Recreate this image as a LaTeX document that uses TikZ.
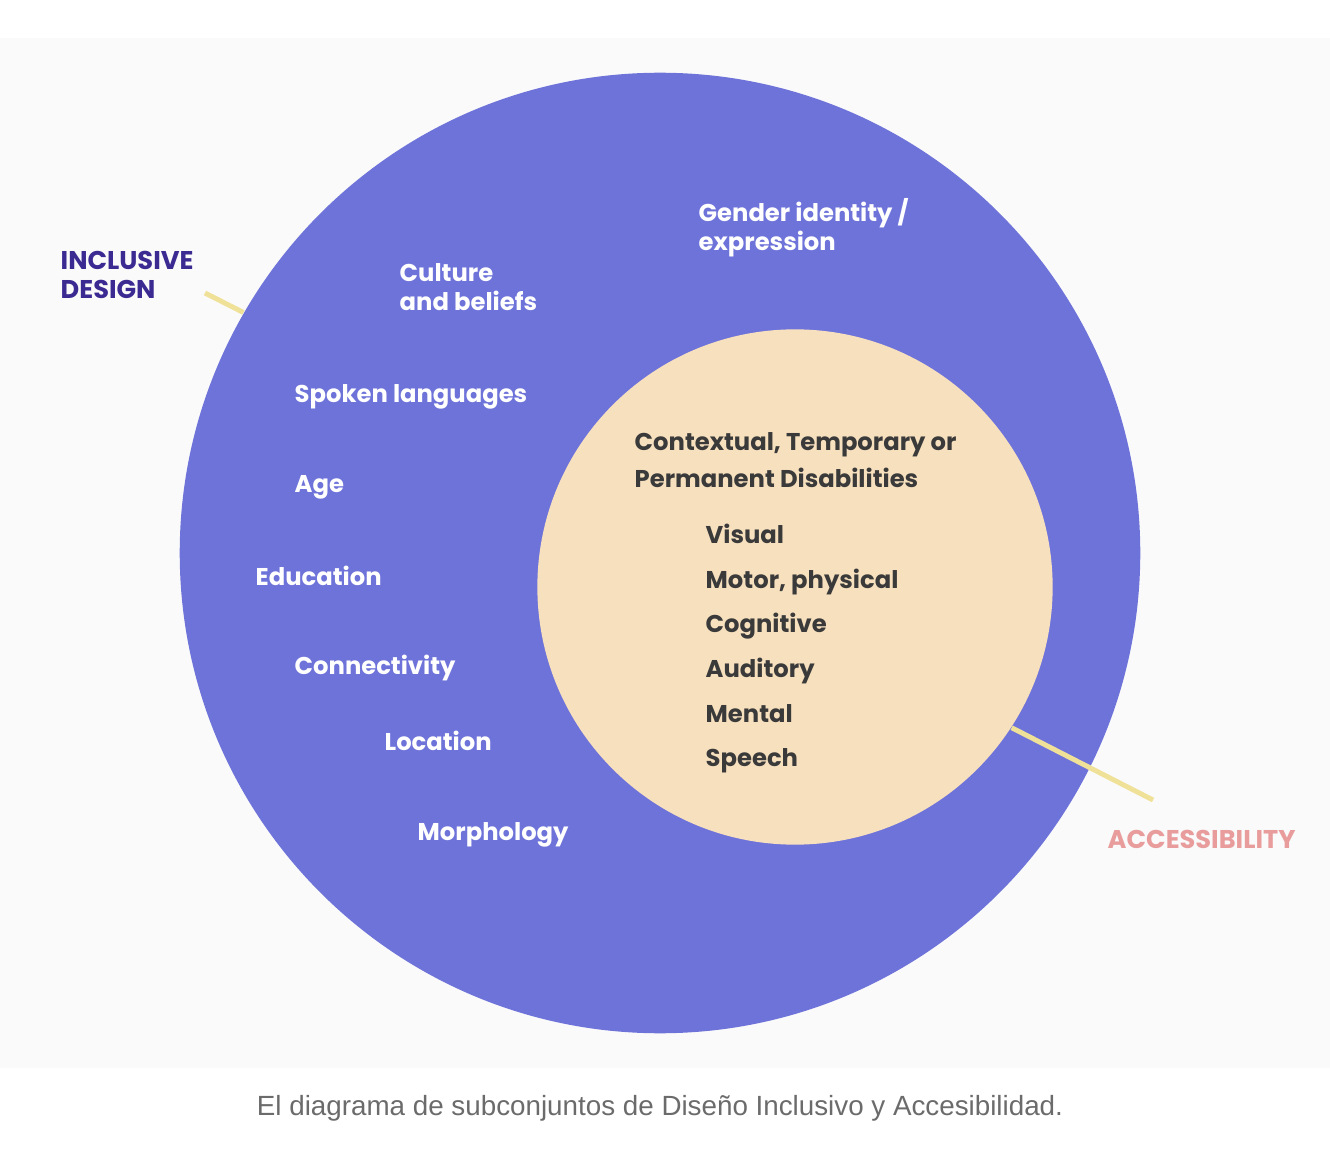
\documentclass[tikz,border=0pt]{standalone}
\usepackage{fontspec}
\setmainfont{Poppins}
\newfontfamily\captionfont{Liberation Sans}
\usetikzlibrary{positioning}

\definecolor{bgGrey}{HTML}{FAFAFA}
\definecolor{outerBlue}{HTML}{6E73D9}
\definecolor{innerCream}{HTML}{F7E0BE}
\definecolor{lineYellow}{HTML}{F0E199}
\definecolor{darkPurple}{HTML}{3B2A92}
\definecolor{salmon}{HTML}{E89C9C}
\definecolor{textDark}{HTML}{3A3A3A}
\definecolor{capGrey}{HTML}{6B6B6B}

\begin{document}
\begin{tikzpicture}[
    x=0.01cm, y=-0.01cm,
    % Estilos de Nodos
    outer_set/.style={circle, fill=outerBlue, minimum size=9.6cm, inner sep=0pt},
    inner_set/.style={circle, fill=innerCream, minimum size=5.15cm, inner sep=0pt},
    white_lbl/.style={anchor=base west, inner sep=0pt, text=white, font=\bfseries\fontsize{6.9}{8.3}\selectfont, align=left},
    dark_lbl/.style={anchor=base west, inner sep=0pt, text=textDark, font=\bfseries\fontsize{6.9}{10.8}\selectfont, align=left},
    set_name/.style={anchor=base west, inner sep=0pt, font=\bfseries\fontsize{7.3}{8.3}\selectfont, align=left},
    % Estilos de lineas
    pointer/.style={draw=lineYellow, line width=1.4pt}
]
\useasboundingbox (0,0) rectangle (1330,1152);
\fill[bgGrey] (0,38) rectangle (1330,1068);

% --- CONJUNTOS ---
\node[outer_set] (outer) at (660,553) {};
\node[inner_set] (inner) at (795,587) {};

% --- DISENO INCLUSIVO ---
% (base de un nodo de dos lineas = linea de abajo)
\node[set_name, text=darkPurple] (incl) at (60,299) {INCLUSIVE\\DESIGN};
\coordinate (incl_tip) at (205,293);
\draw[pointer] (incl_tip) -- (outer.150);

\node[white_lbl] (gender) at (698,251) {Gender identity /\\expression};
\node[white_lbl] (culture) at (399,311) {Culture\\and beliefs};
\node[white_lbl] (spoken) at (294,403) {Spoken languages};
\node[white_lbl] (age) at (294,493) {Age};
\node[white_lbl] (edu) at (255,585) {Education};
\node[white_lbl] (conn) at (294,675) {Connectivity};
\node[white_lbl] (loc) at (384,750) {Location};
\node[white_lbl] (morph) at (417,840) {Morphology};

% --- ACCESIBILIDAD ---
\node[dark_lbl] (ctx) at (634,488) {Contextual, Temporary or\\Permanent Disabilities};
\node[dark_lbl] (visual) at (705,544) {Visual};
\node[dark_lbl] (motor) at (705,589) {Motor, physical};
\node[dark_lbl] (cogn) at (705,633) {Cognitive};
\node[dark_lbl] (audit) at (705,677) {Auditory};
\node[dark_lbl] (mental) at (705,722) {Mental};
\node[dark_lbl] (speech) at (705,766) {Speech};

\coordinate (acc_tip) at (1153,800);
\draw[pointer] (inner.-33) -- (acc_tip);
\node[set_name, text=salmon] (acc) at (1107,848) {ACCESSIBILITY};

% --- Leyenda ---
\node[anchor=base, inner sep=0pt, text=capGrey, font=\captionfont\fontsize{7.9}{9}\selectfont] (caption) at (660,1115)
    {El diagrama de subconjuntos de Diseño Inclusivo y Accesibilidad.};

\end{tikzpicture}
\end{document}
